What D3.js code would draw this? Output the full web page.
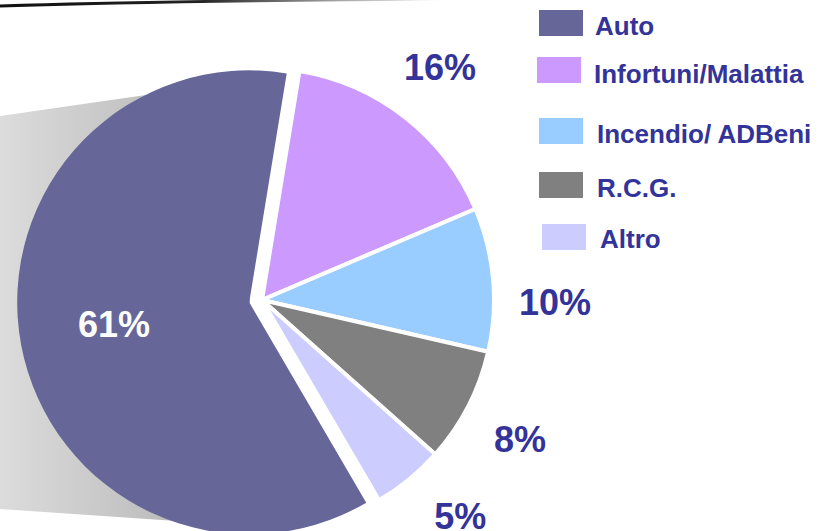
<!DOCTYPE html>
<html>
<head>
<meta charset="utf-8">
<script src="https://cdn.jsdelivr.net/npm/d3@7"></script>
<style>
  html, body { margin: 0; padding: 0; background: #fff; }
  svg { display: block; }
  text { font-family: "Liberation Sans", Arial, sans-serif; font-weight: bold; }
</style>
</head>
<body>
<svg id="chart" width="821" height="531"></svg>
<script>
// categories and shares (%)
const categories = ["Auto", "Infortuni/Malattia", "Incendio/ ADBeni", "R.C.G.", "Altro"];
const shares = [61, 16, 10, 8, 5];
const percentLabels = ["61%", "16%", "10%", "8%", "5%"];
const colours = ["#666699", "#cc99ff", "#99ccff", "#808080", "#ccccff"];

const width = 821, height = 531;
const cx = 262, cy = 300;
const radius = 232;
const labelRadius = 293;
const explode = 13;          // Auto slice is pulled out
const textColour = "#333399";

const svg = d3.select("#chart");

// gradient for the grey shadow behind the pie
const defs = svg.append("defs");
const shadowGrad = defs.append("linearGradient")
    .attr("id", "shadowGrad")
    .attr("x1", "0").attr("x2", "1").attr("y1", "0").attr("y2", "0");
shadowGrad.append("stop").attr("offset", "0%").attr("stop-color", "#dcdcdc");
shadowGrad.append("stop").attr("offset", "100%").attr("stop-color", "#adadad");

const lineGrad = defs.append("linearGradient")
    .attr("id", "lineGrad")
    .attr("gradientUnits", "userSpaceOnUse")
    .attr("x1", 0).attr("x2", 440).attr("y1", 0).attr("y2", 0);
lineGrad.append("stop").attr("offset", "0%").attr("stop-color", "#111");
lineGrad.append("stop").attr("offset", "45%").attr("stop-color", "#222");
lineGrad.append("stop").attr("offset", "100%").attr("stop-color", "#fff");

// slide border line at the top
svg.append("path")
    .attr("d", "M0,6 Q160,1 440,-1")
    .attr("fill", "none")
    .attr("stroke", "url(#lineGrad)")
    .attr("stroke-width", 3);

// shadow wedge to the left
svg.append("path")
    .attr("d", "M0,116 L250,80 L250,526 L0,509 Z")
    .attr("fill", "url(#shadowGrad)");

const pie = d3.pie()
    .sort(null)
    .value(d => d)
    .startAngle(149.7 * Math.PI / 180)
    .endAngle(149.7 * Math.PI / 180 + 2 * Math.PI);

const arcs = pie(shares);
const arc = d3.arc().innerRadius(0).outerRadius(radius);

const g = svg.append("g").attr("transform", `translate(${cx},${cy})`);

// offset for a slice (only the first one is exploded)
function offset(d, i) {
    if (i !== 0) return [0, 0];
    const a = (d.startAngle + d.endAngle) / 2;
    return [Math.sin(a) * explode, -Math.cos(a) * explode];
}

g.selectAll("path.slice")
    .data(arcs)
    .join("path")
    .attr("class", "slice")
    .attr("d", arc)
    .attr("transform", (d, i) => `translate(${offset(d, i)})`)
    .attr("fill", (d, i) => colours[i])
    .attr("stroke", (d, i) => i === 0 ? "none" : "#fff")
    .attr("stroke-width", 4)
    .attr("stroke-linejoin", "miter");

// percent labels
const nudge = [1.2, -0.7, 5.5, 1, -3.3]; // degrees
g.selectAll("text.pct")
    .data(arcs)
    .join("text")
    .attr("class", "pct")
    .attr("text-anchor", "middle")
    .attr("font-size", 36)
    .attr("fill", (d, i) => i === 0 ? "#fff" : textColour)
    .attr("transform", (d, i) => {
        const a = (d.startAngle + d.endAngle) / 2 + nudge[i] * Math.PI / 180;
        const r = i === 0 ? 137 : labelRadius;
        const o = offset(d, i);
        return `translate(${o[0] + Math.sin(a) * r},${o[1] - Math.cos(a) * r})`;
    })
    .attr("dy", "0.36em")
    .text((d, i) => percentLabels[i]);

// legend (rows are not evenly spaced in the original)
const legendRows = [
    { sx: 539, sy: 10,  tx: 595, ty: 35 },
    { sx: 537, sy: 57,  tx: 594, ty: 83 },
    { sx: 539, sy: 118, tx: 597, ty: 143 },
    { sx: 539, sy: 172, tx: 597, ty: 197 },
    { sx: 542, sy: 224, tx: 600, ty: 248 }
];

const legend = svg.append("g");
legend.selectAll("rect")
    .data(categories)
    .join("rect")
    .attr("x", (d, i) => legendRows[i].sx)
    .attr("y", (d, i) => legendRows[i].sy)
    .attr("width", 44)
    .attr("height", 26)
    .attr("fill", (d, i) => colours[i]);

legend.selectAll("text")
    .data(categories)
    .join("text")
    .attr("x", (d, i) => legendRows[i].tx)
    .attr("y", (d, i) => legendRows[i].ty)
    .attr("font-size", 26)
    .attr("fill", textColour)
    .text(d => d);
</script>
</body>
</html>
